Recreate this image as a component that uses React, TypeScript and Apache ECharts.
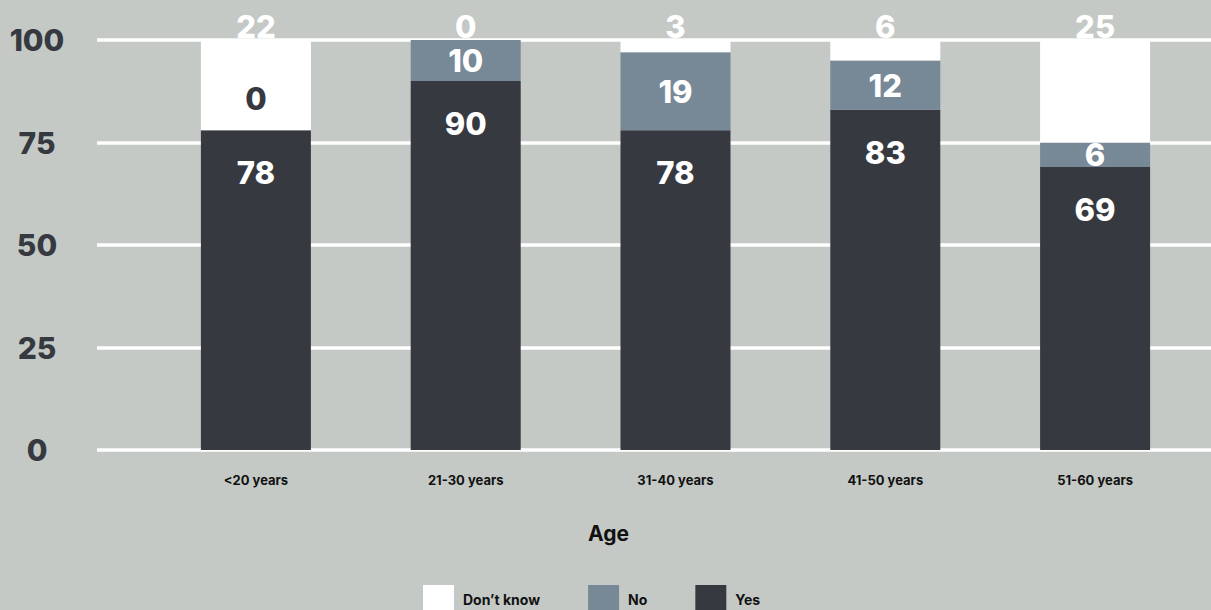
import React, { useEffect, useRef } from "react";
import * as echarts from "echarts";

const categories = ["<20 years", "21-30 years", "31-40 years", "41-50 years", "51-60 years"];
const yesValues = [78, 90, 78, 83, 69];
const noValues = [0, 10, 19, 12, 6];
const dontKnowValues = [22, 0, 3, 6, 25];
const seriesNames = ["Don’t know", "No", "Yes"];
const yMin = 0;
const yMax = 100;
const yInterval = 25;

const FONT = "Inter, 'Noto Sans', 'DejaVu Sans', sans-serif";
const DARK = "#363940";
const SLATE = "#778896";
const WHITE = "#ffffff";
const BG = "#c4c9c6";

export default function App() {
  const ref = useRef<HTMLDivElement>(null);

  useEffect(() => {
    document.body.style.margin = "0";
    document.body.style.background = BG;
    const chart = echarts.init(ref.current as HTMLDivElement, null, { renderer: "svg" });
    const top = 40;
    const bottom = 160;
    const valueLabel = {
      show: true,
      color: WHITE,
      fontFamily: FONT,
      fontSize: 31,
      fontWeight: 800,
    };
    const option = {
      animation: false,
      backgroundColor: BG,
      textStyle: { fontFamily: FONT },
      grid: [
        { left: 97, right: 0, top, bottom },
        { left: 151, right: 11, top, bottom },
      ],
      xAxis: [
        { gridIndex: 0, type: "value", show: false, min: 0, max: 1 },
        {
          gridIndex: 1,
          type: "category",
          data: categories,
          axisLine: { show: false },
          axisTick: { show: false },
          axisLabel: {
            margin: 23,
            fontSize: 13,
            fontWeight: 700,
            color: "#111111",
            fontFamily: FONT,
          },
          name: "Age",
          nameLocation: "middle",
          nameGap: 73,
          nameTextStyle: {
            fontSize: 21,
            fontWeight: 700,
            color: "#111111",
            fontFamily: FONT,
            padding: [0, 134, 0, 0],
          },
        },
      ],
      yAxis: [
        {
          gridIndex: 0,
          type: "value",
          min: yMin,
          max: yMax,
          interval: yInterval,
          axisLine: { show: false },
          axisTick: { show: false },
          axisLabel: {
            align: "center",
            margin: 60,
            fontSize: 30,
            fontWeight: 800,
            color: DARK,
            fontFamily: FONT,
          },
          splitLine: { show: true, lineStyle: { color: WHITE, width: 3.5 } },
        },
        {
          gridIndex: 1,
          type: "value",
          min: yMin,
          max: yMax,
          interval: yInterval,
          show: false,
          splitLine: { show: false },
        },
      ],
      legend: {
        data: seriesNames,
        left: 423,
        top: 585,
        padding: 0,
        itemWidth: 31,
        itemHeight: 28,
        itemGap: 48,
        icon: "rect",
        textStyle: {
          fontSize: 14,
          fontWeight: 700,
          color: "#111111",
          fontFamily: FONT,
          padding: [0, 0, 0, 4],
        },
      },
      series: [
        {
          name: "Yes",
          type: "bar",
          stack: "total",
          xAxisIndex: 1,
          yAxisIndex: 1,
          barWidth: 110,
          itemStyle: { color: DARK },
          label: { ...valueLabel, position: "insideTop", distance: 27 },
          data: yesValues,
        },
        {
          name: "No",
          type: "bar",
          stack: "total",
          xAxisIndex: 1,
          yAxisIndex: 1,
          barWidth: 110,
          itemStyle: { color: SLATE },
          label: { ...valueLabel, position: "inside" },
          data: noValues.map((v) =>
            v === 0
              ? { value: v, label: { position: "top", distance: 16, color: DARK } }
              : v
          ),
        },
        {
          name: "Don’t know",
          type: "bar",
          stack: "total",
          xAxisIndex: 1,
          yAxisIndex: 1,
          barWidth: 110,
          itemStyle: { color: WHITE },
          label: { ...valueLabel, position: "top", distance: -2 },
          data: dontKnowValues,
        },
      ],
    };
    chart.setOption(option as any);
    return () => chart.dispose();
  }, []);

  return (
    <div
      ref={ref}
      style={{ position: "absolute", left: 0, top: 0, width: 1211, height: 610 }}
    />
  );
}
